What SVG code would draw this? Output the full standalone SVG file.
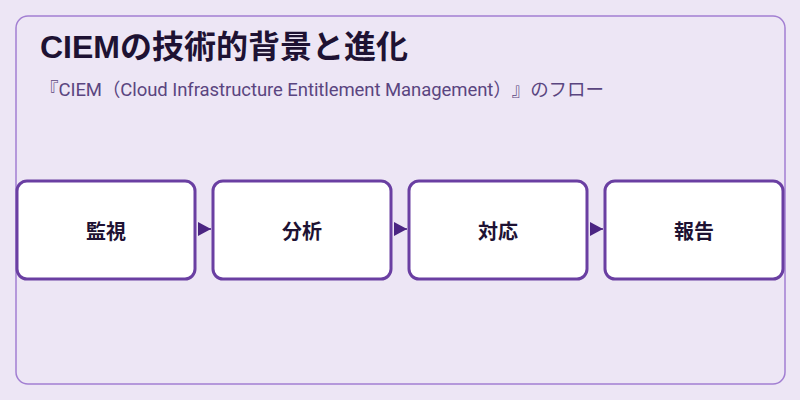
<svg xmlns="http://www.w3.org/2000/svg" width="800" height="400" viewBox="0 0 800 400">
<defs>
<style>
.bg{fill:#ede6f5}
.frame{fill:none;stroke:#a27fd2;stroke-width:1.5}
.node rect{fill:#ffffff;stroke:#6a3fa2;stroke-width:3}
.node text{font-family:"Liberation Sans","Noto Sans CJK JP",sans-serif;font-size:20px;font-weight:700;fill:#1e1233;text-anchor:middle}
.title{font-family:"Liberation Sans","Noto Sans CJK JP",sans-serif;font-size:32px;font-weight:700;fill:#1e1233}
.sub{font-family:Roboto,"Noto Sans CJK JP",sans-serif;font-size:18.5px;fill:#5a4580;text-spacing-trim:space-all}
.conn line{stroke:#4b2582;stroke-width:1.5}
</style>
<marker id="arr" viewBox="0 0 13 14" refX="13" refY="7" markerWidth="13" markerHeight="14" markerUnits="userSpaceOnUse" orient="auto">
<path d="M0,0 L13,7 L0,14 Z" fill="#4b2582"/>
</marker>
</defs>
<rect class="bg" x="0" y="0" width="800" height="400"/>
<rect class="frame" x="16" y="16" width="769" height="368" rx="12"/>
<text class="title" x="40" y="58">CIEMの技術的背景と進化</text>
<text class="sub" x="40" y="96" textLength="564" lengthAdjust="spacing">『CIEM（Cloud Infrastructure Entitlement Management）』のフロー</text>
<g class="conn">
<line x1="198" y1="229" x2="211" y2="229" marker-end="url(#arr)"/>
<line x1="394" y1="229" x2="407" y2="229" marker-end="url(#arr)"/>
<line x1="590" y1="229" x2="603" y2="229" marker-end="url(#arr)"/>
</g>
<g id="node1" class="node"><rect x="17" y="181" width="178" height="98" rx="10"/><text x="106" y="239">監視</text></g>
<g id="node2" class="node"><rect x="213" y="181" width="178" height="98" rx="10"/><text x="302" y="239">分析</text></g>
<g id="node3" class="node"><rect x="409" y="181" width="178" height="98" rx="10"/><text x="498" y="239">対応</text></g>
<g id="node4" class="node"><rect x="605" y="181" width="178" height="98" rx="10"/><text x="694" y="239">報告</text></g>
</svg>
